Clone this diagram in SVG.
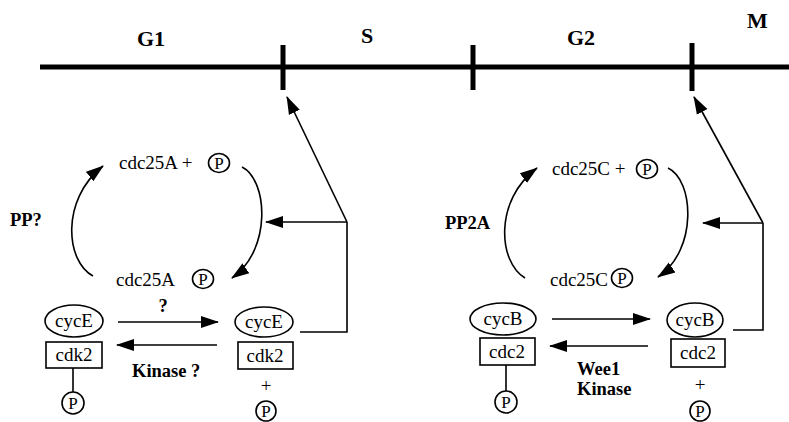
<svg xmlns="http://www.w3.org/2000/svg" width="789" height="422" viewBox="0 0 789 422">
<defs>
<style>
.t{font-family:'Liberation Serif','Times New Roman',Times,'DejaVu Serif',serif;font-size:19px;fill:#000}
.b{font-family:'Liberation Serif','Times New Roman',Times,'DejaVu Serif',serif;font-weight:bold;font-size:18.5px;fill:#000}
.ph{font-family:'Liberation Serif','Times New Roman',Times,'DejaVu Serif',serif;font-weight:bold;font-size:22px;fill:#000}
.s{fill:none;stroke:#000;stroke-width:1.6}
.a{fill:none;stroke:#000;stroke-width:1.6;marker-end:url(#ah)}
.p{font-family:'Liberation Serif','Times New Roman',Times,'DejaVu Serif',serif;font-size:17px;text-anchor:middle;fill:#000}
</style>
<marker id="ah" markerUnits="userSpaceOnUse" markerWidth="18" markerHeight="14" refX="17" refY="7" orient="auto">
<path d="M0,1 L18,7 L0,13 z" fill="#000"/>
</marker>
</defs>
<rect width="789" height="422" fill="#fff"/>

<g id="timeline">
<line x1="40" y1="67" x2="789" y2="67" stroke="#000" stroke-width="5"/>
<line x1="283" y1="45" x2="283" y2="90" stroke="#000" stroke-width="5"/>
<line x1="473" y1="45" x2="473" y2="90" stroke="#000" stroke-width="5"/>
<line x1="692" y1="43" x2="692" y2="91" stroke="#000" stroke-width="5"/>
<text class="ph" x="137" y="46">G1</text>
<text class="ph" x="361" y="43">S</text>
<text class="ph" x="567" y="45">G2</text>
<text class="ph" x="747" y="28">M</text>
</g>

<g id="connectors">
<path class="a" d="M347 222 L287 97"/>
<path class="a" d="M347 222 L266 222"/>
<path class="s" d="M300 332 L347 332 L347 222"/>
<path class="a" d="M93 276 C66 262 60 200 103 166"/>
<path class="a" d="M242 167 C268 180 272 250 232 278"/>
<path class="a" d="M118 322 L218 322"/>
<path class="a" d="M217 345 L117 345"/>
<line class="s" x1="73" y1="368" x2="73" y2="392"/>

<path class="a" d="M763 223 L694 97"/>
<path class="a" d="M763 223 L703 223"/>
<path class="s" d="M733 330 L763 330 L763 223"/>
<path class="a" d="M525 278 C498 262 494 200 537 168"/>
<path class="a" d="M668 168 C694 180 698 250 658 277"/>
<path class="a" d="M552 319 L650 319"/>
<path class="a" d="M648 346 L550 346"/>
<line class="s" x1="506" y1="365" x2="506" y2="391"/>
</g>

<g id="cdc25A-P">
<text class="t" x="119" y="169">cdc25A +</text>
<ellipse class="s" cx="219" cy="163" rx="10.5" ry="9.5"/>
<text class="p" x="219" y="169">P</text>
</g>
<g id="cdc25A">
<text class="t" x="116" y="286">cdc25A</text>
<ellipse class="s" cx="203" cy="279" rx="10.5" ry="9.5"/>
<text class="p" x="203" y="285">P</text>
</g>
<g id="label-pp">
<text class="b" x="10" y="226">PP?</text>
</g>
<g id="cycE-cdk2-P">
<ellipse class="s" cx="74" cy="321" rx="29" ry="16"/>
<text class="t" x="74" y="327" text-anchor="middle">cycE</text>
<rect class="s" x="46" y="342" width="56" height="26"/>
<text class="t" x="74" y="361" text-anchor="middle">cdk2</text>
<circle class="s" cx="73" cy="403" r="11"/>
<text class="p" x="73" y="409">P</text>
</g>
<g id="cycE-cdk2">
<ellipse class="s" cx="264" cy="322" rx="29" ry="15"/>
<text class="t" x="264" y="328" text-anchor="middle">cycE</text>
<rect class="s" x="238" y="342" width="55" height="27"/>
<text class="t" x="265" y="362" text-anchor="middle">cdk2</text>
<text class="t" x="266" y="392" text-anchor="middle">+</text>
<circle class="s" cx="266" cy="411" r="10"/>
<text class="p" x="266" y="417">P</text>
</g>
<g id="labels-left">
<text class="b" x="163" y="312" text-anchor="middle">?</text>
<text class="b" x="132" y="377">Kinase ?</text>
</g>

<g id="cdc25C-P">
<text class="t" x="552" y="175">cdc25C +</text>
<ellipse class="s" cx="647" cy="169" rx="10.5" ry="9.5"/>
<text class="p" x="647" y="175">P</text>
</g>
<g id="cdc25C">
<text class="t" x="550" y="286">cdc25C</text>
<ellipse class="s" cx="622" cy="278" rx="10.5" ry="9.5"/>
<text class="p" x="622" y="284">P</text>
</g>
<g id="label-pp2a">
<text class="b" x="445" y="229">PP2A</text>
</g>
<g id="cycB-cdc2-P">
<ellipse class="s" cx="503" cy="319" rx="33" ry="16"/>
<text class="t" x="503" y="325" text-anchor="middle">cycB</text>
<rect class="s" x="480" y="338" width="55" height="27"/>
<text class="t" x="507" y="358" text-anchor="middle">cdc2</text>
<circle class="s" cx="506" cy="402" r="11"/>
<text class="p" x="506" y="408">P</text>
</g>
<g id="cycB-cdc2">
<ellipse class="s" cx="695" cy="320" rx="28" ry="17"/>
<text class="t" x="695" y="326" text-anchor="middle">cycB</text>
<rect class="s" x="671" y="339" width="54" height="28"/>
<text class="t" x="698" y="359" text-anchor="middle">cdc2</text>
<text class="t" x="700" y="391" text-anchor="middle">+</text>
<circle class="s" cx="700" cy="411" r="10"/>
<text class="p" x="700" y="417">P</text>
</g>
<g id="labels-right">
<text class="b" x="577" y="375">Wee1</text>
<text class="b" x="577" y="395">Kinase</text>
</g>
</svg>
